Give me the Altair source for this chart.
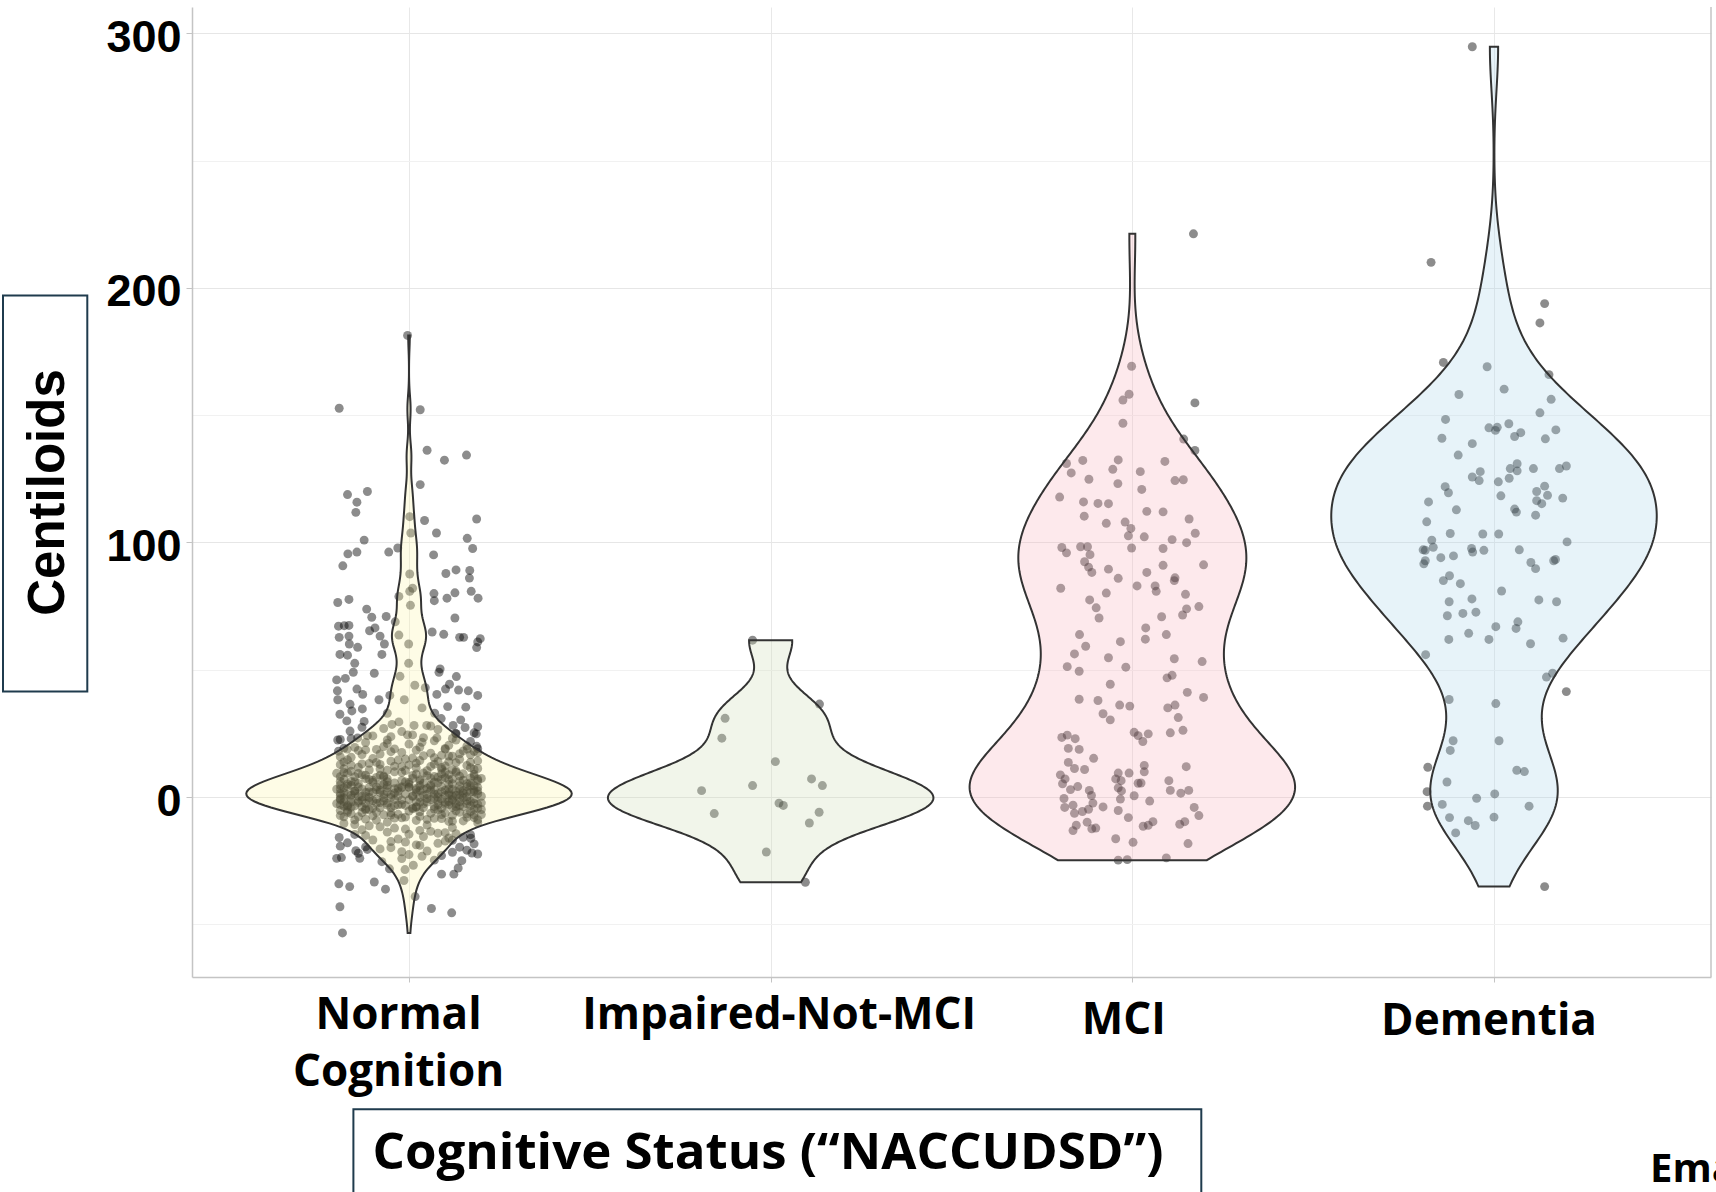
import altair as alt
import numpy as np
import pandas as pd

categories = ["Normal Cognition", "Impaired-Not-MCI", "MCI", "Dementia"]
fill_colors = ["#FCF5AC", "#D0DEB9", "#F8B6C0", "#AFD7EB"]
bw_adjust = [1.2, 1.0, 1.0, 1.0]
y_values = [-50, 0, 50, 100, 150, 200, 250, 300]

# (centiloid value, horizontal jitter in category units)
normal = [
    (181.3, -0.004), (152.7, -0.193), (152.1, 0.031), (136.2, 0.050), (132.3, 0.098), (134.3, 0.159),
    (118.8, -0.170), (120.0, -0.115), (115.8, -0.144), (111.8, -0.147), (122.7, 0.031), (110.1, 0.002),
    (108.6, 0.043), (109.2, 0.187), (103.7, 0.076), (103.7, 0.005), (100.9, -0.124), (101.6, 0.161),
    (97.8, -0.031), (96.2, -0.056), (97.6, 0.176), (95.5, -0.169), (96.2, -0.144), (95.1, 0.068),
    (90.8, -0.183), (87.8, 0.102), (89.2, 0.130), (89.0, 0.168), (87.6, 0.002), (86.0, 0.167),
    (82.0, 0.010), (80.8, 0.002), (78.8, -0.028), (79.9, 0.069), (78.1, 0.105), (80.2, 0.127),
    (80.8, 0.172), (78.1, 0.191), (76.4, -0.197), (77.6, -0.166), (77.1, 0.070), (73.8, -0.117),
    (75.3, 0.004), (70.3, 0.127), (70.6, -0.103), (70.9, -0.063), (68.8, -0.038), (67.1, -0.195),
    (67.3, -0.179), (67.4, -0.166), (66.4, -0.094), (65.3, -0.109), (64.8, 0.064), (62.7, -0.193),
    (63.2, -0.166), (63.2, -0.080), (63.6, -0.028), (63.9, 0.096), (62.7, 0.140), (62.7, 0.151),
    (62.2, 0.197), (60.1, -0.001), (60.1, -0.165), (60.1, -0.068), (56.0, -0.191), (58.8, -0.142),
    (55.7, -0.170), (58.7, 0.187), (60.9, 0.190), (56.0, -0.075), (52.5, -0.001), (52.5, -0.150),
    (49.0, -0.154), (49.0, 0.083), (50.3, 0.086), (48.6, -0.096), (46.0, -0.200), (46.6, -0.176),
    (47.4, -0.025), (47.3, 0.131), (44.3, 0.112), (43.9, 0.016), (42.9, 0.045), (42.4, 0.101),
    (41.7, -0.198), (42.4, -0.144), (40.3, -0.128), (39.9, -0.053), (40.3, 0.077), (42.0, 0.137),
    (41.7, 0.164), (39.9, 0.190), (38.2, -0.013), (38.2, -0.197), (36.4, -0.163), (38.2, -0.083),
    (35.5, 0.107), (33.8, -0.158), (34.6, -0.129), (35.0, 0.036), (35.3, 0.157), (32.5, -0.191),
    (32.9, 0.071), (30.8, 0.089), (30.3, 0.143), (32.9, -0.060), (29.9, -0.172), (29.7, -0.124),
    (29.5, -0.028), (28.5, -0.047), (28.1, 0.014), (28.1, 0.049), (28.1, 0.122), (27.3, 0.155),
    (27.6, 0.190), (25.9, -0.163), (24.1, -0.115), (24.4, -0.004), (23.2, 0.077), (25.0, 0.129),
    (24.8, 0.186), (22.4, -0.197), (23.2, -0.142), (22.4, -0.060), (21.5, 0.036), (22.4, 0.130),
    (19.9, 0.187), (18.8, 0.161), (18.0, -0.195), (18.8, -0.171), (17.4, 0.190),
    (18.4, 0.02), (19.5, -0.15), (20.3, 0.11), (21.0, -0.06), (21.8, 0.17), (22.6, -0.19), (23.3, 0.04),
    (24.0, -0.10), (24.9, 0.13), (25.7, -0.02), (26.5, 0.08), (27.4, -0.13), (20.8, 0.00), (22.1, 0.07),
    (23.7, -0.05), (19.1, 0.10), (21.4, -0.12), (25.2, 0.18), (26.9, -0.07), (18.7, -0.09), (20.0, 0.16),
    (23.0, 0.12), (24.4, 0.01), (27.9, 0.06), (22.9, -0.16),
    # dense core
    (19.2, -0.18), (18.5, -0.12), (17.8, -0.05), (19.6, 0.03), (16.4, 0.09), (18.1, 0.15), (15.6, -0.16),
    (16.9, -0.08), (15.3, 0.01), (17.2, 0.06), (16.0, 0.12), (19.0, 0.19), (15.8, -0.19), (17.5, -0.02),
    (18.8, 0.10), (16.6, 0.17), (15.1, -0.10), (17.0, 0.14), (19.8, -0.07), (16.2, 0.04), (18.3, -0.14),
    (15.4, 0.07), (16.7, -0.13), (17.9, 0.18), (18.9, -0.04), (16.1, 0.11),
    (14.6, -0.17), (13.2, -0.11), (12.1, -0.04), (11.4, 0.02), (14.0, 0.08), (13.5, 0.13), (10.8, 0.18),
    (12.7, -0.19), (11.0, -0.08), (14.9, -0.01), (10.3, 0.05), (13.9, 0.11), (12.4, 0.16), (11.7, -0.14),
    (10.5, -0.06), (14.3, 0.03), (12.9, 0.07), (11.2, 0.19), (13.6, -0.09), (10.1, -0.16), (12.2, 0.10),
    (14.8, 0.14), (11.9, -0.02), (13.0, -0.13), (10.7, 0.12), (12.6, 0.00), (14.1, -0.05), (11.5, 0.17),
    (13.8, -0.18), (10.9, 0.09),
    (10.2, 0.13), (11.1, -0.18), (12.0, 0.06), (12.8, -0.08), (13.7, 0.17), (14.5, -0.03),
    (10.6, -0.11), (11.6, 0.09), (12.5, -0.16), (13.3, 0.02), (14.2, 0.19), (10.4, -0.01),
    (9.6, -0.18), (8.7, -0.13), (7.9, -0.07), (6.5, -0.02), (5.4, 0.04), (9.1, 0.09), (8.2, 0.14),
    (7.0, 0.19), (6.1, -0.16), (5.8, -0.10), (9.9, -0.04), (8.5, 0.01), (7.4, 0.06), (6.8, 0.11),
    (5.2, 0.16), (9.3, -0.20), (8.0, -0.15), (7.7, -0.09), (6.3, 0.03), (5.6, 0.08), (9.7, 0.13),
    (8.9, 0.18), (7.2, -0.12), (6.0, -0.06), (5.1, 0.00), (8.4, 0.05), (7.6, 0.10), (6.6, 0.15),
    (9.4, -0.17), (5.9, -0.01), (8.1, 0.07), (7.1, 0.12), (6.9, -0.11), (5.5, 0.17), (9.0, 0.02),
    (8.6, -0.08), (7.3, 0.20), (6.2, -0.19), (5.3, -0.14), (9.8, 0.10),
    (5.2, 0.12), (6.0, -0.15), (6.8, 0.03), (7.5, 0.17), (8.3, -0.07), (9.1, 0.15), (5.5, -0.04),
    (6.3, 0.19), (7.0, -0.18), (7.8, 0.08), (8.6, -0.12), (9.4, 0.04), (5.8, 0.07), (6.6, -0.10),
    (7.3, 0.01), (8.0, -0.19), (8.8, 0.11), (9.7, -0.02), (5.1, -0.17), (6.2, 0.14), (7.1, -0.06),
    (8.2, 0.18), (9.2, -0.14), (5.7, 0.00), (6.9, 0.09),
    (4.7, -0.19), (3.9, -0.14), (2.8, -0.09), (1.6, -0.04), (0.5, 0.01), (4.2, 0.06), (3.3, 0.11),
    (2.1, 0.16), (1.0, -0.17), (0.2, -0.12), (4.9, -0.07), (3.6, -0.02), (2.5, 0.03), (1.3, 0.08),
    (0.7, 0.13), (4.4, 0.18), (3.1, -0.20), (2.3, -0.15), (1.9, -0.10), (0.9, -0.05), (4.0, 0.00),
    (3.4, 0.05), (2.7, 0.10), (1.5, 0.15), (0.3, 0.20), (4.6, -0.16), (3.8, -0.11), (2.0, -0.06),
    (1.1, -0.01), (0.6, 0.04), (4.1, 0.09), (3.0, 0.14), (2.4, 0.19), (1.7, -0.18), (0.1, -0.13),
    (4.8, -0.08), (3.5, -0.03), (2.9, 0.02), (1.2, 0.07), (0.4, 0.12), (4.3, 0.17), (3.2, -0.19),
    (2.6, 0.06), (1.8, -0.12), (0.8, 0.11), (4.5, 0.03), (3.7, -0.06), (2.2, 0.13), (1.4, -0.15),
    (0.0, 0.08), (2.0, 0.18),
    (0.3, -0.14), (1.1, 0.05), (1.9, 0.17), (2.7, -0.08), (3.4, 0.02), (4.2, -0.17), (0.6, 0.10),
    (1.4, -0.19), (2.2, -0.03), (3.0, 0.12), (3.8, 0.19), (4.6, -0.06), (0.1, 0.16), (0.9, -0.07),
    (1.7, 0.02), (2.5, 0.15), (3.2, -0.13), (4.0, -0.02), (4.8, 0.11), (0.4, -0.03), (1.2, 0.19),
    (2.0, -0.11), (2.8, 0.07), (3.6, -0.18), (4.4, 0.14), (0.8, -0.16), (1.6, 0.11), (2.4, -0.15),
    (3.1, 0.04), (3.9, -0.09), (4.7, 0.06), (0.2, 0.01), (1.0, 0.14), (1.8, -0.08), (2.6, 0.18),
    (3.3, -0.04), (4.1, 0.16), (0.5, -0.19), (2.1, 0.09), (3.7, 0.00),
    (-0.4, -0.18), (-1.3, -0.13), (-2.2, -0.08), (-3.1, -0.03), (-4.0, 0.02), (-4.7, 0.07), (-0.8, 0.12),
    (-1.7, 0.17), (-2.6, -0.20), (-3.5, -0.15), (-4.4, -0.10), (-0.2, -0.05), (-1.1, 0.00), (-2.0, 0.05),
    (-2.9, 0.10), (-3.8, 0.15), (-4.9, 0.20), (-0.6, -0.16), (-1.5, -0.11), (-2.4, -0.06), (-3.3, -0.01),
    (-4.2, 0.04), (-0.9, 0.09), (-1.9, 0.14), (-2.8, 0.19), (-3.7, -0.17), (-4.6, -0.12), (-0.3, -0.07),
    (-1.2, -0.02), (-2.1, 0.03), (-3.0, 0.08), (-3.9, 0.13), (-4.8, 0.18), (-0.7, -0.19), (-1.6, -0.14),
    (-2.5, -0.09), (-3.4, -0.04), (-4.3, 0.01), (-1.0, 0.06), (-1.8, 0.11), (-2.7, 0.16), (-3.6, -0.18),
    (-4.5, 0.09), (-0.5, 0.14), (-1.4, -0.10), (-2.3, 0.20), (-3.2, -0.06), (-4.1, 0.12), (-0.1, 0.03),
    (-2.0, -0.16),
    (-0.3, 0.15), (-1.1, -0.19), (-1.8, 0.02), (-2.6, 0.13), (-3.3, -0.17), (-4.2, -0.05), (-0.9, -0.09),
    (-1.6, 0.08), (-2.4, 0.18), (-3.1, 0.11), (-3.9, -0.13), (-4.6, 0.01), (-0.6, 0.05), (-1.4, 0.16),
    (-2.2, -0.14), (-2.9, -0.02), (-3.7, 0.07), (-4.4, 0.19), (-0.2, -0.11), (-1.0, -0.04), (-1.9, -0.18),
    (-2.7, 0.04), (-3.5, 0.14), (-4.3, -0.08), (-0.7, 0.18), (-1.5, -0.07), (-2.1, 0.10), (-3.0, -0.19),
    (-3.8, 0.02), (-4.8, -0.11), (-0.4, 0.07), (-1.2, 0.12), (-2.5, -0.12), (-3.4, 0.17), (-4.0, -0.16),
    (-5.3, -0.19), (-6.1, -0.13), (-7.0, -0.07), (-7.9, -0.01), (-8.8, 0.05), (-9.6, 0.11), (-5.7, 0.17),
    (-6.5, -0.16), (-7.4, -0.10), (-8.3, -0.04), (-9.2, 0.02), (-5.1, 0.08), (-6.0, 0.14), (-6.9, 0.20),
    (-7.8, -0.18), (-8.7, -0.12), (-9.9, -0.06), (-5.5, 0.00), (-6.4, 0.06), (-7.2, 0.12), (-8.1, 0.18),
    (-9.0, -0.15), (-5.9, -0.09), (-6.8, -0.03), (-7.6, 0.03), (-8.5, 0.09), (-9.4, 0.15), (-5.2, -0.17),
    (-6.3, 0.10), (-7.1, -0.05), (-8.0, 0.16),
    (-5.4, 0.13), (-6.2, -0.05), (-7.0, 0.18), (-7.7, -0.14), (-8.4, 0.07), (-9.1, -0.09), (-5.8, 0.03),
    (-6.6, 0.16), (-7.3, -0.19), (-8.2, -0.02), (-9.5, 0.12), (-5.1, -0.12), (-6.9, 0.09), (-8.9, 0.19),
    (-6.0, -0.17),
    (-10.4, -0.18), (-11.3, -0.11), (-12.2, -0.04), (-13.1, 0.03), (-14.0, 0.10), (-14.8, 0.17),
    (-10.8, -0.15), (-11.7, -0.08), (-12.6, -0.01), (-13.5, 0.06), (-14.4, 0.13), (-10.1, 0.19),
    (-11.0, 0.05), (-12.0, 0.12), (-12.9, -0.13), (-13.8, -0.06), (-14.6, 0.00),
    # lower tail
    (-14.2, 0.08), (-15.1, -0.12), (-15.8, 0.15), (-16.5, -0.03), (-17.3, 0.10), (-18.0, -0.17),
    (-18.8, 0.02), (-19.7, 0.14), (-20.4, -0.08), (-21.2, 0.05), (-22.1, -0.14), (-23.0, 0.09),
    (-24.2, -0.02), (-15.5, 0.04), (-16.9, -0.10), (-18.4, 0.18), (-19.9, -0.05), (-21.7, 0.12),
    (-14.7, -0.15), (-16.1, 0.11), (-17.7, -0.01), (-19.3, -0.19), (-20.9, 0.16), (-22.6, 0.00),
    (-24.8, 0.07),
    (-16.2, 0.171), (-15.9, -0.193), (-22.4, 0.190), (-22.0, 0.174), (-24.1, -0.200), (-23.8, -0.187),
    (-21.1, -0.147), (-24.1, -0.136), (-20.6, -0.115), (-25.4, -0.075), (-28.2, -0.054), (-25.0, 0.146),
    (-27.9, 0.136), (-30.3, 0.124), (-30.3, 0.090), (-28.5, -0.011), (-26.8, 0.012), (-23.3, 0.036),
    (-33.4, -0.096), (-36.2, -0.065), (-34.1, -0.194), (-35.2, -0.164), (-39.1, 0.017), (-43.1, -0.191),
    (-43.8, 0.062), (-45.5, 0.118), (-53.4, -0.184), (-32.8, -0.014), (-17.5, -0.05), (-19.0, 0.03),
    (-18.2, 0.08), (-21.5, -0.02), (-17.0, 0.12), (-19.6, -0.12),
]

impaired = [
    (61.6, -0.050), (36.5, 0.135), (30.9, -0.126), (23.1, -0.135), (13.9, 0.013), (7.1, 0.113),
    (4.5, 0.143), (4.5, -0.050), (2.5, -0.191), (-2.4, 0.023), (-3.3, 0.035), (-6.5, -0.156),
    (-6.0, 0.134), (-10.2, 0.107), (-21.6, -0.012), (-33.5, 0.096),
]

mci = [
    (221.2, 0.169), (154.8, 0.173), (140.6, 0.142), (136.1, 0.173), (169.2, -0.002), (158.2, -0.009),
    (155.9, -0.026), (146.8, -0.026), (131.0, -0.182), (127.3, -0.169), (132.2, -0.137), (132.4, -0.039),
    (128.7, -0.054), (131.8, 0.090), (127.8, 0.022), (124.8, -0.120), (123.1, -0.040), (124.3, 0.118),
    (124.6, 0.141), (117.8, -0.201), (115.9, -0.135), (115.3, -0.095), (115.2, -0.066), (110.3, -0.133),
    (107.5, -0.072), (120.8, 0.026), (112.2, 0.040), (112.0, 0.085), (108.0, -0.020), (105.5, -0.004),
    (109.2, 0.157), (103.6, 0.174), (102.6, -0.011), (102.2, 0.033), (101.1, 0.110), (99.9, 0.150),
    (98.0, -0.195), (98.3, -0.143), (98.3, -0.124), (97.8, -0.002), (97.6, 0.085), (95.9, -0.182),
    (95.2, -0.117), (92.4, -0.132), (91.2, 0.197), (91.0, 0.085), (90.3, -0.121), (88.2, -0.112),
    (89.5, -0.066), (88.2, 0.040), (85.9, -0.039), (86.1, 0.118), (85.0, 0.116), (82.9, 0.013),
    (82.9, 0.063), (80.8, 0.066), (82.0, -0.198), (80.1, -0.072), (79.6, 0.147), (77.4, -0.118),
    (74.3, -0.100), (73.9, 0.150), (74.8, 0.184), (71.5, 0.139), (70.3, -0.092), (70.8, 0.081),
    (66.4, 0.037), (63.8, -0.146), (63.8, 0.094), (62.0, 0.036), (59.2, -0.129), (61.0, -0.033),
    (56.2, -0.160), (54.7, -0.066), (54.3, 0.116), (53.2, 0.193), (51.2, -0.180), (49.4, -0.147),
    (51.0, -0.018), (46.8, 0.096), (47.8, 0.110), (44.3, -0.061), (41.1, 0.152), (39.1, 0.197),
    (38.4, -0.147), (37.9, -0.095), (36.1, -0.035), (35.7, -0.007), (35.0, 0.098), (36.1, 0.118),
    (32.7, -0.081), (30.3, -0.061), (31.2, 0.127), (26.2, 0.140), (25.2, 0.105), (25.4, 0.005),
    (24.1, 0.016), (21.8, 0.029), (24.8, 0.044), (23.4, -0.195), (24.3, -0.180), (22.9, -0.158),
    (19.1, -0.177), (18.7, -0.147), (15.2, -0.107), (13.6, -0.177), (11.2, -0.160), (10.8, -0.132),
    (11.9, 0.149), (12.4, 0.033), (9.9, 0.033), (9.4, -0.009), (9.4, -0.039), (7.1, -0.046),
    (6.4, -0.031), (8.7, -0.199), (7.1, -0.186), (5.2, -0.193), (2.9, -0.171), (4.1, -0.151),
    (2.6, -0.119), (0.6, -0.113), (3.6, -0.039), (2.4, -0.030), (-0.8, -0.033), (0.5, 0.005),
    (5.4, 0.016), (5.5, 0.024), (6.4, 0.101), (2.6, 0.105), (1.5, 0.134), (2.6, 0.156),
    (-0.6, -0.189), (-3.2, -0.164), (-4.1, -0.187), (-6.4, -0.160), (-5.7, -0.138), (-2.4, -0.109),
    (-4.8, -0.121), (-3.9, -0.081), (-5.3, -0.039), (-1.6, 0.048), (-4.1, 0.171), (-7.3, 0.184),
    (-8.1, -0.011), (-11.1, -0.155), (-9.9, -0.125), (-13.2, -0.164), (-12.5, -0.112), (-12.2, -0.101),
    (-11.5, 0.030), (-11.1, 0.044), (-9.7, 0.057), (-10.7, 0.131), (-9.7, 0.145), (-16.4, -0.046),
    (-17.8, 0.002), (-18.3, 0.154), (-24.8, -0.039), (-24.6, -0.014), (-23.9, 0.094),
]

dementia = [
    (294.7, -0.060), (210.0, -0.174), (193.8, 0.140), (186.2, 0.127), (170.7, -0.140), (169.0, -0.019),
    (165.9, 0.152), (160.2, 0.028), (158.1, -0.097), (156.2, 0.158), (148.3, -0.134), (150.9, 0.127),
    (140.9, -0.144), (138.8, -0.060), (145.0, -0.014), (145.2, 0.009), (144.0, 0.004), (146.6, 0.041),
    (141.6, 0.057), (143.1, 0.074), (140.7, 0.142), (144.2, 0.171), (134.3, -0.099), (125.7, -0.060),
    (127.8, -0.038), (124.3, -0.041), (123.8, 0.012), (125.2, 0.042), (129.0, 0.045), (130.9, 0.064),
    (128.1, 0.064), (129.0, 0.109), (129.0, 0.181), (130.0, 0.200), (121.9, -0.135), (119.5, -0.126),
    (115.9, -0.181), (112.8, -0.104), (118.3, 0.019), (113.1, 0.057), (111.9, 0.062), (120.0, 0.118),
    (122.1, 0.140), (118.5, 0.148), (116.4, 0.118), (115.2, 0.132), (117.4, 0.190), (110.7, 0.115),
    (108.1, -0.186), (103.5, -0.121), (100.9, -0.172), (103.3, -0.031), (103.3, 0.013), (100.2, 0.202),
    (97.1, -0.196), (96.9, -0.190), (98.1, -0.168), (91.6, -0.194), (92.8, -0.190), (94.0, -0.147),
    (94.7, -0.112), (97.6, -0.062), (96.2, -0.059), (96.9, -0.028), (97.1, 0.070), (92.1, 0.102),
    (89.7, 0.115), (92.8, 0.165), (93.3, 0.170), (85.0, -0.140), (86.9, -0.123), (83.8, -0.093),
    (80.9, 0.021), (76.7, -0.124), (77.8, -0.061), (77.4, 0.124), (76.7, 0.173), (71.2, -0.129),
    (72.1, -0.086), (72.6, -0.050), (68.8, 0.066), (66.2, 0.061), (66.9, 0.005), (64.3, -0.070),
    (61.9, -0.125), (61.9, -0.014), (60.2, 0.101), (62.4, 0.191), (55.9, -0.189), (47.1, 0.145),
    (48.6, 0.162), (41.4, 0.200), (38.3, -0.124), (36.7, 0.005), (22.1, -0.113), (22.1, 0.014),
    (18.3, -0.121), (11.7, -0.183), (10.5, 0.063), (10.0, 0.084), (5.9, -0.130), (2.1, -0.185),
    (1.2, 0.002), (-0.5, -0.048), (-3.6, -0.184), (-2.9, -0.143), (-3.6, 0.097), (-8.1, -0.123),
    (-7.9, 0.000), (-9.3, -0.071), (-11.2, -0.052), (-14.1, -0.106), (-35.2, 0.140),
]

groups = [normal, impaired, mci, dementia]
rows = []
for i, pts in enumerate(groups):
    for v, j in pts:
        rows.append({"group": categories[i], "idx": i, "value": v, "jit": j})
df = pd.DataFrame(rows)


def nrd0(v):
    v = np.asarray(v, float)
    sd = v.std(ddof=1)
    q75, q25 = np.percentile(v, [75, 25])
    lo = min(sd, (q75 - q25) / 1.34)
    return float(0.9 * lo * len(v) ** -0.2)


W, H = 1519, 970
xscale = alt.Scale(domain=[-0.6, 3.6], nice=False, zero=False)
yscale = alt.Scale(domain=[-70.7, 310.3], nice=False, zero=False)

label_expr = ("datum.value == 0 ? ['Normal', 'Cognition'] : datum.value == 1 ? 'Impaired-Not-MCI' : "
              "datum.value == 2 ? 'MCI' : 'Dementia'")

xaxis = alt.Axis(
    values=[0, 1, 2, 3], labelExpr=label_expr, grid=True, gridColor="#e8e8e8", gridWidth=1,
    domainColor="#c4c4c4", domainWidth=1.5, tickColor="#c4c4c4", tickSize=5, tickWidth=1,
    labelFont="Open Sans", labelFontWeight="bold", labelFontSize=44, labelColor="black",
    labelBaseline="alphabetic", labelLimit=1000,
    labelPadding={"condition": [{"test": "datum.value == 2", "value": 51},
                                {"test": "datum.value == 3", "value": 52}], "value": 46},
    labelOffset={"condition": [{"test": "datum.value == 0", "value": -11},
                               {"test": "datum.value == 1", "value": 8},
                               {"test": "datum.value == 2", "value": -9}], "value": -5.5},
    labelLineHeight=57, labelAngle=0, labelOverlap=False, labelFlush=False,
    title="Cognitive Status (“NACCUDSD”)", titleFont="Open Sans", titleFontWeight="bold",
    titleFontSize=51, titleColor="black", titleX=575.5, titleY=191, titleAlign="center",
    titleBaseline="alphabetic", titleLimit=1500,
)

yaxis = alt.Axis(
    values=y_values, labelExpr="datum.value % 100 == 0 ? datum.label : ''", grid=True,
    gridColor={"condition": {"test": "datum.value % 100 != 0", "value": "#f1f1f1"}, "value": "#e6e6e6"},
    gridWidth=1, domainColor="#c4c4c4", domainWidth=1.5, tickColor="#c4c4c4", tickSize=6,
    tickOpacity={"condition": {"test": "datum.value % 100 != 0", "value": 0}, "value": 1},
    labelFont="Liberation Sans", labelFontWeight="bold", labelFontSize=45, labelColor="black",
    labelBaseline="alphabetic", labelOffset=18, labelPadding=5,
    title="Centiloids", titleFont="Liberation Sans", titleFontWeight="bold", titleFontSize=51,
    titleColor="black", titleAngle=270, titleX=-129, titleY=485, titleAlign="center",
    titleBaseline="alphabetic",
)

points = alt.Chart(df).transform_calculate(xpos="datum.idx + datum.jit").mark_circle(
    size=80, color="black", opacity=0.45
).encode(
    x=alt.X("xpos:Q", scale=xscale, axis=xaxis),
    y=alt.Y("value:Q", scale=yscale, axis=yaxis),
)

violins = []
for i, pts in enumerate(groups):
    vals = [p[0] for p in pts]
    bw = nrd0(vals) * bw_adjust[i]
    v = alt.Chart(df).transform_filter(
        alt.datum.idx == i
    ).transform_density(
        "value", as_=["value", "density"], bandwidth=bw, extent=[min(vals), max(vals)], steps=300
    ).transform_joinaggregate(
        maxd="max(density)"
    ).transform_calculate(
        xl=f"{i} - 0.45 * datum.density / datum.maxd",
        xr=f"{i} + 0.45 * datum.density / datum.maxd",
    ).mark_area(
        orient="horizontal", fill=fill_colors[i], fillOpacity=0.3, stroke="#333333",
        strokeWidth=2, strokeOpacity=1
    ).encode(
        y=alt.Y("value:Q", scale=yscale, axis=yaxis),
        x=alt.X("xl:Q", scale=xscale, axis=xaxis),
        x2="xr:Q",
    )
    violins.append(v)

one = pd.DataFrame({"k": [0]})
ybox = alt.Chart(one).mark_rect(fillOpacity=0, stroke="#1f3b4d", strokeWidth=2).encode(
    x=alt.value(-189), x2=alt.value(-104.7), y=alt.value(288.6), y2=alt.value(684.6)
)
xbox = alt.Chart(one).mark_rect(fillOpacity=0, stroke="#1f3b4d", strokeWidth=2).encode(
    x=alt.value(161.4), x2=alt.value(1009.3), y=alt.value(1102.3), y2=alt.value(1200)
)
right_line = alt.Chart(one).mark_rule(color="#c4c4c4", strokeWidth=1.5).encode(
    x=alt.value(W), y=alt.value(0), y2=alt.value(H)
)
ema = alt.Chart(one).mark_text(
    text="Ema", align="left", baseline="alphabetic", font="Open Sans", fontWeight="bold",
    fontSize=40, color="black"
).encode(x=alt.value(1458), y=alt.value(1175))

chart = alt.layer(points, *violins, ybox, xbox, right_line, ema).properties(
    width=W, height=H,
    padding={"left": 192, "top": 7, "right": 5, "bottom": 215},
    autosize=alt.AutoSizeParams(type="none"),
    background="white",
).configure_view(stroke=None)

chart.save("out.html", embed_options={"renderer": "svg", "actions": False})
